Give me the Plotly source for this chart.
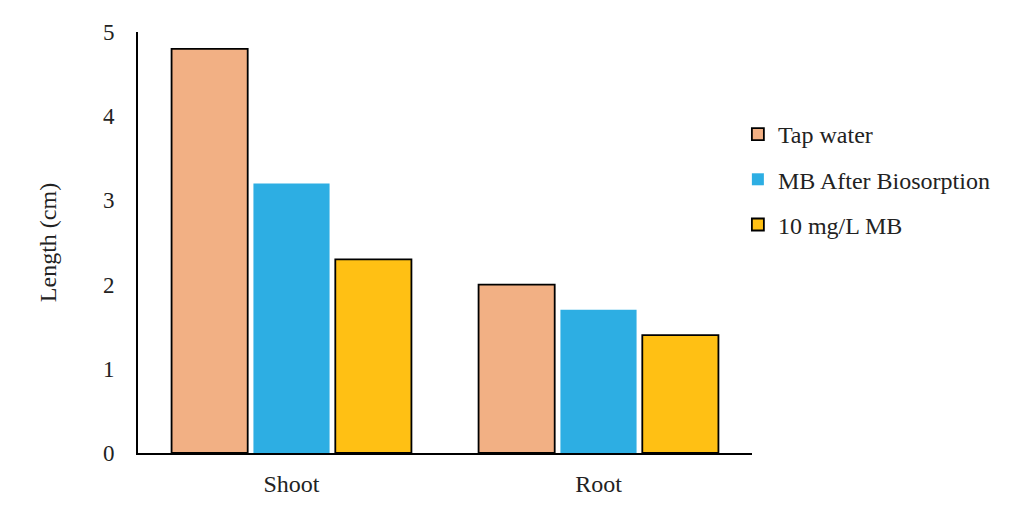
import plotly.graph_objects as go

categories = ["Shoot", "Root"]
series_names = ["Tap water", "MB After Biosorption", "10 mg/L MB"]
tap_water = [4.8, 2.0]
mb_after = [3.2, 1.7]
mg10_mb = [2.3, 1.4]
colors = ["#F2B084", "#2DAEE3", "#FFC014"]
outlines = [1.8, 0, 1.8]

fig = go.Figure()
for i, (name, vals) in enumerate(zip(series_names, [tap_water, mb_after, mg10_mb])):
    fig.add_trace(go.Bar(
        x=categories, y=vals, name=name, legendgroup=name,
        marker=dict(color=colors[i], line=dict(color="black", width=outlines[i])),
    ))

font_family = "Liberation Serif, Times New Roman, serif"
fig.update_layout(
    width=1019, height=515,
    barmode="group", bargap=0.2, bargroupgap=0.07,
    paper_bgcolor="white", plot_bgcolor="white",
    margin=dict(l=130, r=275, t=20, b=70),
    font=dict(family=font_family, size=24, color="#222"),
    legend=dict(x=0.977, y=0.81, xanchor="left", yanchor="top",
                traceorder="grouped", tracegroupgap=11,
                font=dict(size=24, family=font_family, color="#222"),
                itemwidth=30),
    showlegend=True,
)
fig.update_yaxes(range=[0, 5], dtick=1, showgrid=False, zeroline=False,
                 showline=True, linecolor="black", linewidth=2, ticks="",
                 ticklabelstandoff=17, tickfont=dict(size=23, family=font_family),
                 title=dict(text="Length (cm)", standoff=40,
                            font=dict(size=24, family=font_family)))
fig.update_xaxes(showgrid=False, showline=True, linecolor="black", linewidth=2,
                 ticks="", ticklabelstandoff=8,
                 tickfont=dict(size=24, family=font_family))
fig.write_html("out.html")
